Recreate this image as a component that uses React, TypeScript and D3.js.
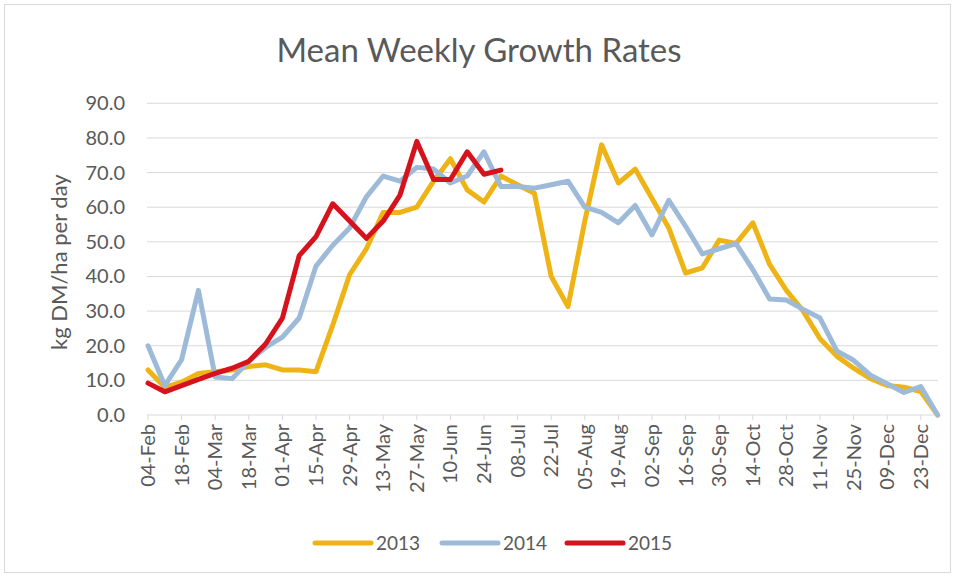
import React from "react";
import * as d3 from "d3";

const weeks = [
  "04-Feb", "11-Feb", "18-Feb", "25-Feb", "04-Mar", "11-Mar", "18-Mar", "25-Mar",
  "01-Apr", "08-Apr", "15-Apr", "22-Apr", "29-Apr", "06-May", "13-May", "20-May",
  "27-May", "03-Jun", "10-Jun", "17-Jun", "24-Jun", "01-Jul", "08-Jul", "15-Jul",
  "22-Jul", "29-Jul", "05-Aug", "12-Aug", "19-Aug", "26-Aug", "02-Sep", "09-Sep",
  "16-Sep", "23-Sep", "30-Sep", "07-Oct", "14-Oct", "21-Oct", "28-Oct", "04-Nov",
  "11-Nov", "18-Nov", "25-Nov", "02-Dec", "09-Dec", "16-Dec", "23-Dec", "30-Dec",
];

const values2013 = [
  13, 8, 9.5, 12, 12.5, 13, 14, 14.5, 13, 13, 12.5, 26, 40.5, 48, 58.5, 58.5,
  60, 67.5, 74, 65, 61.5, 69, 66.5, 64, 40, 31.3, 56, 78, 67, 71, 62.5, 54,
  41, 42.5, 50.5, 49.5, 55.5, 43.5, 36, 30, 22, 17, 13.5, 10.5, 8.5, 8, 6.8, 0,
];

const values2014 = [
  20, 8.5, 16, 36, 11, 10.5, 15.5, 19.5, 22.5, 28, 43, 49, 54, 63, 69, 67.5,
  71.5, 71, 67, 69, 76, 66, 66, 65.5, 66.5, 67.5, 60, 58.5, 55.5, 60.5, 52, 62,
  54.5, 46.5, 48, 49.5, 42, 33.5, 33.2, 30.5, 28, 18.5, 15.8, 11.5, 9, 6.5, 8.2, 0,
];

const values2015 = [
  9.2, 6.7, 8.5, 10.3, 12, 13.5, 15.5, 20.5, 28, 46, 51.5, 61, 56, 51, 56, 63.5,
  79, 68, 68, 76, 69.5, 70.7,
];

const yTicks = [0, 10, 20, 30, 40, 50, 60, 70, 80, 90];

const seriesNames = ["2013", "2014", "2015"];
const seriesColors = ["#EEB415", "#9EBAD9", "#D6121C"];

const W = 957;
const H = 578;
const FONT = "Lato, 'Open Sans', sans-serif";
const TEXT = "#595959";
const GRID = "#d9d9d9";

export default function App() {
  const x = d3.scalePoint<string>().domain(weeks).range([148, 937.6]);
  const y = d3.scaleLinear().domain([0, 90]).range([415, 103.3]);

  const line = d3
    .line<number>()
    .x((_, i) => x(weeks[i]) as number)
    .y((d) => y(d));

  const series = [values2013, values2014, values2015];
  const labelWeeks = weeks.filter((_, i) => i % 2 === 0);

  const legendX = [315, 442, 567];

  return (
    <svg
      width={W}
      height={H}
      style={{ position: "absolute", left: 0, top: 0, display: "block", background: "#fff" }}
      fontFamily={FONT}
    >
      <rect x={4.5} y={4.5} width={946} height={568} fill="#fff" stroke="#d9d9d9" />
      <text x={479} y={62} textAnchor="middle" fontSize={33} fill={TEXT}>
        Mean Weekly Growth Rates
      </text>

      {yTicks.map((t) => (
        <g key={t}>
          {t > 0 && (
            <line x1={147} x2={938} y1={y(t)} y2={y(t)} stroke={GRID} strokeWidth={1} />
          )}
          <text x={125} y={y(t)} dy="0.35em" textAnchor="end" fontSize={20} fill={TEXT}>
            {t.toFixed(1)}
          </text>
        </g>
      ))}

      <line x1={147} x2={938} y1={y(0)} y2={y(0)} stroke={GRID} strokeWidth={1} />
      {labelWeeks.map((w) => (
        <g key={w}>
          <line x1={x(w)} x2={x(w)} y1={y(0)} y2={y(0) + 5} stroke={GRID} />
          <text
            transform={`translate(${(x(w) as number) + 7},${y(0) + 9}) rotate(-90)`}
            textAnchor="end"
            fontSize={20}
            fill={TEXT}
          >
            {w}
          </text>
        </g>
      ))}

      <text
        transform={`translate(67,${(y(0) + y(90)) / 2 + 3}) rotate(-90)`}
        textAnchor="middle"
        fontSize={22}
        fill={TEXT}
      >
        kg DM/ha per day
      </text>

      {series.map((s, k) => (
        <path
          key={k}
          d={line(s) || ""}
          fill="none"
          stroke={seriesColors[k]}
          strokeWidth={5}
          strokeLinejoin="round"
          strokeLinecap="round"
        />
      ))}

      {seriesNames.map((n, k) => (
        <g key={n}>
          <line
            x1={legendX[k]}
            x2={legendX[k] + 56}
            y1={543}
            y2={543}
            stroke={seriesColors[k]}
            strokeWidth={5}
            strokeLinecap="round"
          />
          <text x={legendX[k] + 61} y={543} dy="0.35em" fontSize={19} fill={TEXT}>
            {n}
          </text>
        </g>
      ))}
    </svg>
  );
}
